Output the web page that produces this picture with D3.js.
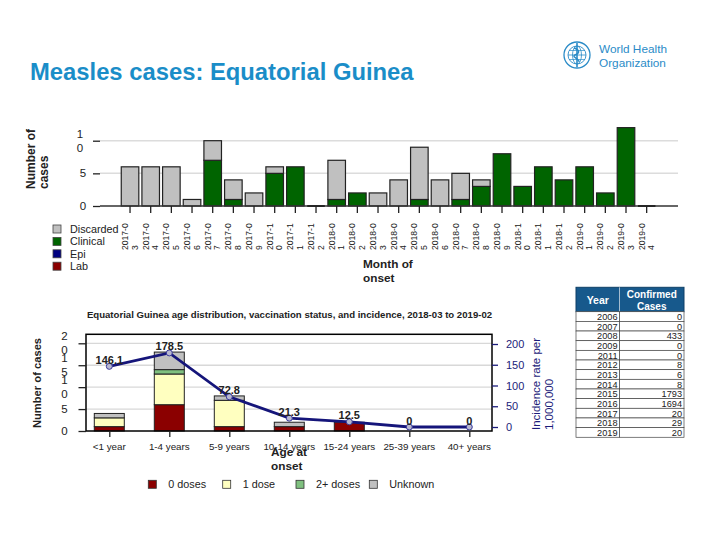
<!DOCTYPE html>
<html><head><meta charset="utf-8">
<script src="https://cdn.jsdelivr.net/npm/d3@7"></script>
<style>body{margin:0;background:#fff}svg{display:block;font-family:"Liberation Sans",Arial,sans-serif}</style>
</head><body><svg id="c" width="720" height="540"></svg>
<script>
// ---------- data ----------
const months = ["2017-03","2017-04","2017-05","2017-06","2017-07","2017-08","2017-09","2017-10","2017-11","2017-12",
  "2018-01","2018-02","2018-03","2018-04","2018-05","2018-06","2018-07","2018-08","2018-09","2018-10","2018-11","2018-12",
  "2019-01","2019-02","2019-03","2019-04"];
const clinical  = [0,0,0,0,7,1,0,5,6,0, 1,2,0,0,1,0,1,3,8,3,6,4, 6,2,12,0];
const discarded = [6,6,6,1,3,3,2,1,0,0, 6,0,2,4,8,4,4,1,0,0,0,0, 0,0,0,0];
const epi       = [0,0,0,0,0,0,0,0,0,0, 0,0,0,0,0,0,0,0,0,0,0,0, 0,0,0,0];
const lab       = [0,0,0,0,0,0,0,0,0,0, 0,0,0,0,0,0,0,0,0,0,0,0, 0,0,0,0];
const topTicks = [0,5,10];

const ageGroups = ["<1 year","1-4 years","5-9 years","10-14 years","15-24 years","25-39 years","40+ years"];
const dose0   = [1,6,1,1,2,0,0];
const dose1   = [2,7,6,0,0,0,0];
const dose2   = [0,1,0,0,0,0,0];
const unknown = [1,4,1,1,0,0,0];
const incidence = [146.1,178.5,72.8,21.3,12.5,0,0];
const leftTicks = [0,5,10,15,20];
const rightTicks = [0,50,100,150,200];

const tableYears = ["2006","2007","2008","2009","2011","2012","2013","2014","2015","2016","2017","2018","2019"];
const tableCases = [0,0,433,0,0,8,6,8,1793,1694,20,29,20];

// ---------- setup ----------
const svg = d3.select("#c");
const BLUE = "#1a8dc8";
const C = {Discarded:"#c0c0c0", Clinical:"#006400", Epi:"#000080", Lab:"#8b0000"};
const D = {"0 doses":"#8b0000","1 dose":"#ffffc0","2+ doses":"#7fc07f","Unknown":"#c0c0c0"};

// Title
svg.append("text").attr("x",30).attr("y",79.5).attr("fill",BLUE)
  .attr("font-size",23.8).attr("font-weight","bold").text("Measles cases: Equatorial Guinea");

// WHO logo
const logo = svg.append("g").attr("transform","translate(577,55)").attr("stroke","#2a8bc7").attr("fill","none");
logo.append("circle").attr("r",13).attr("stroke-width",1.3);
logo.append("circle").attr("r",9).attr("stroke-width",0.9);
logo.append("ellipse").attr("rx",4.5).attr("ry",9).attr("stroke-width",0.8);
logo.append("line").attr("x1",-9).attr("x2",9).attr("stroke-width",0.8);
logo.append("line").attr("x1",-8).attr("x2",8).attr("y1",-4.5).attr("y2",-4.5).attr("stroke-width",0.7);
logo.append("line").attr("x1",-8).attr("x2",8).attr("y1",4.5).attr("y2",4.5).attr("stroke-width",0.7);
logo.append("line").attr("y1",-12).attr("y2",12).attr("stroke-width",1.6);
logo.append("path").attr("d","M-3,-7 C3,-5 3,-2 -2,0 C-6,2 3,4 2,7").attr("stroke-width",1.4);
svg.append("text").attr("x",599).attr("y",53).attr("fill","#2a8bc7").attr("font-size",11.8).attr("font-weight","500").text("World Health");
svg.append("text").attr("x",599).attr("y",67).attr("fill","#2a8bc7").attr("font-size",11.8).attr("font-weight","500").text("Organization");

// ---------- top chart ----------
const tx = d3.scaleBand().domain(months).range([119.7,657]).paddingInner(0.15).paddingOuter(0.075);
const ty = d3.scaleLinear().domain([0,10]).range([206,140.7]);
const tg = svg.append("g");
tg.selectAll(".g").data(topTicks.filter(d=>d>0)).join("line")
  .attr("x1",100).attr("x2",678).attr("y1",d=>ty(d)).attr("y2",d=>ty(d)).attr("stroke","#dcdcdc").attr("stroke-width",1.5);
const yAx = tg.append("g").attr("transform","translate(100,0)").call(d3.axisLeft(ty).tickValues(topTicks).tickSize(7).tickFormat(""));
yAx.select(".domain").remove();
yAx.selectAll("line").attr("stroke","#222").attr("stroke-width",1.3);
topTicks.forEach(t=>{
  const s=String(t);
  if(s.length>1){
    tg.append("text").attr("x",80).attr("y",ty(t)-3).attr("text-anchor","middle").attr("font-size",11.5).attr("fill","#222").text(s[0]);
    tg.append("text").attr("x",80).attr("y",ty(t)+11).attr("text-anchor","middle").attr("font-size",11.5).attr("fill","#222").text(s.slice(1));
  } else {
    tg.append("text").attr("x",83).attr("y",ty(t)+4).attr("text-anchor","middle").attr("font-size",11.5).attr("fill","#222").text(s);
  }
});
const topRows = months.map((m,i)=>({m, Clinical:clinical[i], Lab:lab[i], Epi:epi[i], Discarded:discarded[i]}));
const topStack = d3.stack().keys(["Clinical","Lab","Epi","Discarded"])(topRows);
topStack.forEach(layer=>{
  tg.append("g").selectAll("rect").data(layer.filter(d=>d[1]>d[0])).join("rect")
    .attr("x",d=>tx(d.data.m)).attr("width",tx.bandwidth())
    .attr("y",d=>ty(d[1])).attr("height",d=>ty(d[0])-ty(d[1]))
    .attr("fill",C[layer.key]).attr("stroke","#222").attr("stroke-width",1.2);
});
tg.append("g").selectAll("line").data(topRows.filter(d=>d.Clinical+d.Discarded+d.Epi+d.Lab===0)).join("line")
  .attr("x1",d=>tx(d.m)).attr("x2",d=>tx(d.m)+tx.bandwidth()).attr("y1",ty(0)).attr("y2",ty(0)).attr("stroke","#000").attr("stroke-width",2);
tg.append("line").attr("x1",100).attr("x2",678).attr("y1",ty(0)).attr("y2",ty(0)).attr("stroke","#333").attr("stroke-width",1.3);
const xAx = tg.append("g").attr("transform",`translate(0,${ty(0)})`).call(d3.axisBottom(tx).tickSize(7).tickFormat(""));
xAx.select(".domain").remove();
xAx.selectAll("line").attr("stroke","#222").attr("stroke-width",1.3);
months.forEach(m=>{
  const cx = tx(m)+tx.bandwidth()/2;
  const g = tg.append("g").attr("transform",`translate(${cx},250) rotate(-90)`);
  g.append("text").attr("x",0).attr("y",-2).attr("font-size",8.6).attr("fill","#222").text(m.slice(0,6));
  g.append("text").attr("x",0).attr("y",7.5).attr("font-size",8.6).attr("fill","#222").text(m.slice(6));
});
const ylab = tg.append("g").attr("transform","translate(0,189) rotate(-90)");
ylab.append("text").attr("x",0).attr("y",35).attr("font-size",12).attr("font-weight","bold").attr("fill","#222").text("Number of");
ylab.append("text").attr("x",0).attr("y",47.5).attr("font-size",12).attr("font-weight","bold").attr("fill","#222").text("cases");
tg.append("text").attr("x",363).attr("y",268).attr("font-size",11.8).attr("font-weight","bold").attr("fill","#222").text("Month of");
tg.append("text").attr("x",363).attr("y",282).attr("font-size",11.8).attr("font-weight","bold").attr("fill","#222").text("onset");
["Discarded","Clinical","Epi","Lab"].forEach((k,i)=>{
  const y = 229 + i*12.4;
  tg.append("rect").attr("x",53).attr("y",y-4).attr("width",8).attr("height",8).attr("fill",C[k]).attr("stroke","#444").attr("stroke-width",0.8);
  tg.append("text").attr("x",70).attr("y",y+4).attr("font-size",10.8).attr("fill","#222").text(k);
});

// ---------- bottom chart ----------
const bx = d3.scalePoint().domain(ageGroups).range([109.3,469.3]);
const by = d3.scaleLinear().domain([0,20]).range([431,343.3]);
const bry = d3.scaleLinear().domain([0,200]).range([427,344]);
const bw = 30;
const bg = svg.append("g");
bg.append("text").attr("x",289.5).attr("y",318).attr("text-anchor","middle").attr("font-size",9.6).attr("font-weight","bold").attr("fill","#222")
  .text("Equatorial Guinea age distribution, vaccination status, and incidence, 2018-03 to 2019-02");
bg.selectAll(".g").data(leftTicks.filter(d=>d>0)).join("line")
  .attr("x1",86).attr("x2",492).attr("y1",d=>by(d)).attr("y2",d=>by(d)).attr("stroke","#d8d8d8").attr("stroke-width",1.3);
const botRows = ageGroups.map((a,i)=>({a, "0 doses":dose0[i], "1 dose":dose1[i], "2+ doses":dose2[i], "Unknown":unknown[i]}));
const botStack = d3.stack().keys(["0 doses","1 dose","2+ doses","Unknown"])(botRows);
botStack.forEach(layer=>{
  bg.append("g").selectAll("rect").data(layer.filter(d=>d[1]>d[0])).join("rect")
    .attr("x",d=>bx(d.data.a)-bw/2).attr("width",bw)
    .attr("y",d=>by(d[1])).attr("height",d=>by(d[0])-by(d[1]))
    .attr("fill",D[layer.key]).attr("stroke","#222").attr("stroke-width",1);
});
bg.append("rect").attr("x",86).attr("y",334.3).attr("width",406).attr("height",96.7).attr("fill","none").attr("stroke","#000").attr("stroke-width",1.5);
const lAx = bg.append("g").attr("transform","translate(86,0)").call(d3.axisLeft(by).tickValues(leftTicks).tickSize(7.5).tickFormat(""));
lAx.select(".domain").remove();
lAx.selectAll("line").attr("stroke","#222").attr("stroke-width",1.3);
leftTicks.forEach(t=>{
  const s=String(t);
  if(s.length>1){
    bg.append("text").attr("x",64.5).attr("y",by(t)-3).attr("text-anchor","middle").attr("font-size",11.5).attr("fill","#222").text(s[0]);
    bg.append("text").attr("x",64.5).attr("y",by(t)+11).attr("text-anchor","middle").attr("font-size",11.5).attr("fill","#222").text(s.slice(1));
  } else {
    bg.append("text").attr("x",64.5).attr("y",by(t)+4).attr("text-anchor","middle").attr("font-size",11.5).attr("fill","#222").text(s);
  }
});
const bAx = bg.append("g").attr("transform","translate(0,431)").call(d3.axisBottom(bx).tickSize(6).tickFormat(""));
bAx.select(".domain").remove();
bAx.selectAll("line").attr("stroke","#222").attr("stroke-width",1.3);
ageGroups.forEach(a=>{
  bg.append("text").attr("x",bx(a)).attr("y",449.5).attr("text-anchor","middle").attr("font-size",9.8).attr("fill","#222").text(a);
});
const NAVY = "#1c1c7a";
const rAx = bg.append("g").attr("transform","translate(492,0)").call(d3.axisRight(bry).tickValues(rightTicks).tickSize(6).tickFormat(""));
rAx.select(".domain").remove();
rAx.selectAll("line").attr("stroke",NAVY).attr("stroke-width",1.3);
rightTicks.forEach(t=>{
  bg.append("text").attr("x",506).attr("y",bry(t)+4).attr("font-size",11).attr("fill",NAVY).text(t);
});
bg.append("path").datum(incidence.map((v,i)=>[bx(ageGroups[i]),bry(v)]))
  .attr("d",d3.line()).attr("fill","none").attr("stroke","#15157a").attr("stroke-width",2.8);
bg.append("g").selectAll("circle").data(incidence).join("circle")
  .attr("cx",(d,i)=>bx(ageGroups[i])).attr("cy",d=>bry(d)).attr("r",3)
  .attr("fill","#b8b8d0").attr("stroke","#3a3a9a").attr("stroke-width",1);
bg.append("g").selectAll("text").data(incidence).join("text")
  .attr("x",(d,i)=>bx(ageGroups[i])).attr("y",d=>bry(d)-2.5).attr("text-anchor","middle")
  .attr("font-size",11).attr("font-weight","bold").attr("fill","#222").text(d=>d);
bg.append("text").attr("transform","translate(40.5,383) rotate(-90)").attr("text-anchor","middle")
  .attr("font-size",11.2).attr("font-weight","bold").attr("fill","#222").text("Number of cases");
const rl = bg.append("g").attr("transform","translate(0,430) rotate(-90)");
rl.append("text").attr("x",0).attr("y",540).attr("font-size",11.5).attr("fill",NAVY).text("Incidence rate per");
rl.append("text").attr("x",0).attr("y",553).attr("font-size",11.5).attr("fill",NAVY).text("1,000,000");
bg.append("text").attr("x",271).attr("y",456).attr("font-size",11.8).attr("font-weight","bold").attr("fill","#222").text("Age at");
bg.append("text").attr("x",271).attr("y",470).attr("font-size",11.8).attr("font-weight","bold").attr("fill","#222").text("onset");
const legX = [152.3,226.7,300,373.3];
["0 doses","1 dose","2+ doses","Unknown"].forEach((k,i)=>{
  bg.append("rect").attr("x",legX[i]-4).attr("y",480.3).attr("width",8).attr("height",8).attr("fill",D[k]).attr("stroke","#333").attr("stroke-width",0.8);
  bg.append("text").attr("x",legX[i]+16).attr("y",488).attr("font-size",10.8).attr("fill","#222").text(k);
});

// ---------- table ----------
const tb = svg.append("g");
const tL=576, tM=619.5, tR=684, tTop=287.3, tHead=311.7, rowH=9.66;
tb.append("rect").attr("x",tL).attr("y",tTop).attr("width",tR-tL).attr("height",tHead-tTop).attr("fill","#17598c").attr("stroke","#0e3f66");
tb.append("line").attr("x1",tM).attr("x2",tM).attr("y1",tTop).attr("y2",tHead).attr("stroke","#c9d6e2").attr("stroke-width",0.8);
tb.append("text").attr("x",(tL+tM)/2).attr("y",303.5).attr("text-anchor","middle").attr("font-size",10.5).attr("font-weight","bold").attr("fill","#fff").text("Year");
tb.append("text").attr("x",(tM+tR)/2).attr("y",298).attr("text-anchor","middle").attr("font-size",10).attr("font-weight","bold").attr("fill","#fff").text("Confirmed");
tb.append("text").attr("x",(tM+tR)/2).attr("y",309.5).attr("text-anchor","middle").attr("font-size",10).attr("font-weight","bold").attr("fill","#fff").text("Cases");
tableYears.forEach((y,i)=>{
  const y0 = tHead + i*rowH;
  tb.append("rect").attr("x",tL).attr("y",y0).attr("width",tM-tL).attr("height",rowH).attr("fill","#fff").attr("stroke","#444").attr("stroke-width",0.7);
  tb.append("rect").attr("x",tM).attr("y",y0).attr("width",tR-tM).attr("height",rowH).attr("fill","#fff").attr("stroke","#444").attr("stroke-width",0.7);
  tb.append("text").attr("x",tM-2).attr("y",y0+8.2).attr("text-anchor","end").attr("font-size",9.2).attr("fill","#222").text(y);
  tb.append("text").attr("x",tR-2).attr("y",y0+8.2).attr("text-anchor","end").attr("font-size",9.2).attr("fill","#222").text(tableCases[i]);
});
</script></body></html>
